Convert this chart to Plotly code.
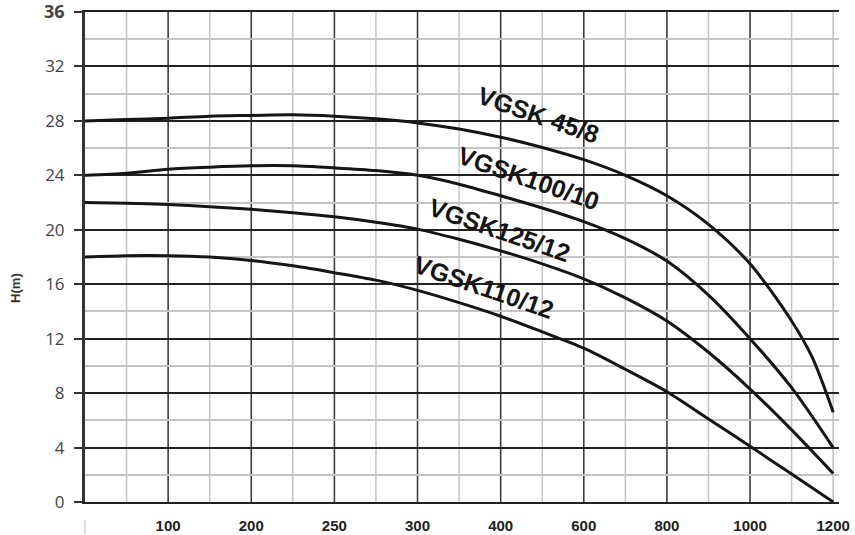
import plotly.graph_objects as go

# Flow categories (evenly spaced on the chart) and tick labels
flow_labels = ["|", "100", "200", "250", "300", "400", "600", "800", "1000", "1200"]
head_ticks = [0, 4, 8, 12, 16, 20, 24, 28, 32, 36]

# Sample positions along the category axis (index units)
x_pts = [0, 0.5, 1, 1.5, 2, 2.5, 3, 3.5, 4, 4.5, 5, 5.5, 6, 6.5, 7, 7.5, 8, 8.5, 9]
x_pts_45 = [0, 0.5, 1, 1.5, 2, 2.5, 3, 3.5, 4, 4.5, 5, 5.5, 6, 6.5, 7, 7.5, 8, 8.5, 8.75, 9]

h_45_8 = [28.0, 28.1, 28.2, 28.35, 28.4, 28.45, 28.35, 28.15, 27.85, 27.4, 26.8, 26.05,
          25.15, 24.0, 22.5, 20.4, 17.5, 13.3, 10.6, 6.6]
h_100_10 = [24.0, 24.15, 24.45, 24.6, 24.7, 24.7, 24.55, 24.35, 24.0, 23.35, 22.5, 21.6,
            20.6, 19.35, 17.7, 15.2, 12.0, 8.4, 4.0]
h_125_12 = [22.0, 21.95, 21.85, 21.7, 21.5, 21.25, 20.95, 20.55, 20.05, 19.3, 18.45, 17.5,
            16.4, 15.0, 13.3, 11.0, 8.3, 5.3, 2.1]
h_110_12 = [18.0, 18.1, 18.1, 18.0, 17.75, 17.35, 16.85, 16.3, 15.55, 14.65, 13.65, 12.5,
            11.3, 9.75, 8.1, 6.1, 4.1, 2.05, 0.0]

series_names = ["VGSK 45/8", "VGSK100/10", "VGSK125/12", "VGSK110/12"]
label_pos_x = [5.46, 5.33, 4.99, 4.8]
label_pos_y = [28.4, 23.8, 20.0, 15.8]

fig = go.Figure()
for xs, ys, nm in [(x_pts_45, h_45_8, series_names[0]), (x_pts, h_100_10, series_names[1]),
                   (x_pts, h_125_12, series_names[2]), (x_pts, h_110_12, series_names[3])]:
    fig.add_trace(go.Scatter(x=xs, y=ys, mode="lines", name=nm,
                             line=dict(color="#151515", width=3, shape="spline", smoothing=0.8),
                             showlegend=False, hoverinfo="skip", cliponaxis=False))

# Vertical grid lines (major at categories, minor halfway)
shapes = []
n = len(flow_labels)
y_lo, y_hi = head_ticks[0], head_ticks[-1]
for i in range(1, n):
    col = "#3c3c3c" if i < n - 1 else "#c4c4c4"
    shapes.append(dict(type="line", xref="x", yref="y", x0=i, x1=i, y0=y_lo, y1=y_hi,
                       line=dict(color=col, width=1.6), layer="below"))
for i in range(n - 1):
    shapes.append(dict(type="line", xref="x", yref="y", x0=i + 0.5, x1=i + 0.5, y0=y_lo, y1=y_hi,
                       line=dict(color="#c4c4c4", width=1.5), layer="below"))

annotations = []
for nm, ax_, ay_ in zip(series_names, label_pos_x, label_pos_y):
    annotations.append(dict(x=ax_, y=ay_, xref="x", yref="y", text="<b>%s</b>" % nm, showarrow=False,
                            textangle=19, font=dict(family="Liberation Sans", size=25, color="#151515"),
                            xanchor="center", yanchor="middle"))
annotations.append(dict(x=-0.0915, y=0.437, xref="paper", yref="paper", text="<b>H(m)</b>",
                        showarrow=False, textangle=-90,
                        font=dict(family="Liberation Sans", size=13, color="#333333"),
                        xanchor="center", yanchor="middle"))

y_ticktext = [str(v) for v in head_ticks]
y_ticktext[-1] = "<b><span style='font-size:18px'>36</span></b>"
x_ticktext = ["<span style='color:#cccccc'>|</span>"] + ["<b>%s</b>" % t for t in flow_labels[1:]]

fig.update_layout(
    width=855, height=535,
    margin=dict(l=85, r=16, t=12, b=33, autoexpand=False),
    paper_bgcolor="white", plot_bgcolor="white",
    shapes=shapes, annotations=annotations,
    xaxis=dict(range=[0, 9.07], tickmode="array", tickvals=list(range(n)), ticktext=x_ticktext,
               showgrid=False, zeroline=False, ticks="",
               showline=True, mirror=True, linecolor="#222222", linewidth=2.4,
               ticklabelstandoff=9, automargin=False, ticklabeloverflow="allow",
               tickfont=dict(family="Liberation Sans", size=15, color="#222222")),
    yaxis=dict(range=[y_lo, y_hi], tickmode="array", tickvals=head_ticks, ticktext=y_ticktext,
               showgrid=True, gridcolor="#222222", gridwidth=2.4, zeroline=False,
               showline=True, linecolor="#333333", linewidth=3,
               ticks="outside", ticklen=8, tickwidth=2.4, tickcolor="#333333",
               ticklabelstandoff=6, automargin=False, ticklabeloverflow="allow",
               tickfont=dict(family="Open Sans", size=17, color="#444444"),
               minor=dict(dtick=2, tick0=0, showgrid=True, gridcolor="#c4c4c4", gridwidth=1.5)),
)

fig.write_html("out.html", config={"displayModeBar": False},
               post_script="document.body.style.margin='0px';")
